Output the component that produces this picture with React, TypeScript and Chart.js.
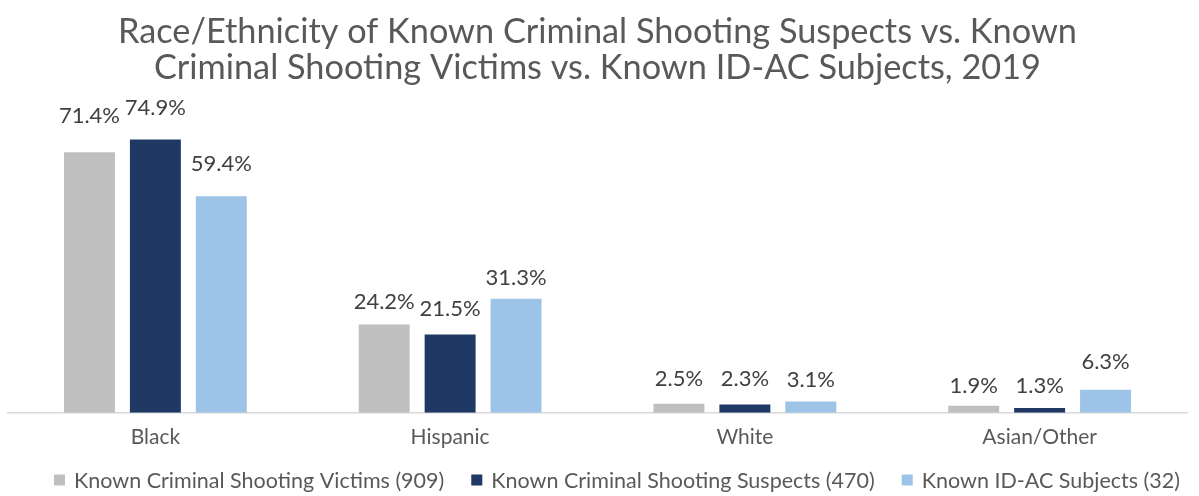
import React, { useEffect, useRef } from "react";
import { Chart, registerables } from "chart.js";

Chart.register(...registerables);

const categories = ["Black", "Hispanic", "White", "Asian/Other"];
const victims = [71.4, 24.2, 2.5, 1.9];
const suspects = [74.9, 21.5, 2.3, 1.3];
const idac = [59.4, 31.3, 3.1, 6.3];
const seriesNames = [
  "Known Criminal Shooting Victims (909)",
  "Known Criminal Shooting Suspects (470)",
  "Known ID-AC Subjects (32)",
];
const seriesColors = ["#bfbfbf", "#1f3864", "#9dc3e6"];
const titleLines = [
  "Race/Ethnicity of Known Criminal Shooting Suspects vs. Known",
  "Criminal Shooting Victims vs. Known ID-AC Subjects, 2019",
];

// label lift (px above bar top to text centre) per series, per category
const labelLift = [
  [36, 23, 25, 20],
  [32, 25, 26, 22],
  [32, 21, 22, 28],
];

const FONT = "Lato, 'Open Sans', sans-serif";

const valueLabels = {
  id: "valueLabels",
  afterDatasetsDraw(chart: any) {
    const ctx = chart.ctx;
    ctx.save();
    ctx.font = `22px ${FONT}`;
    ctx.fillStyle = "#404040";
    ctx.textAlign = "center";
    ctx.textBaseline = "middle";
    chart.data.datasets.forEach((ds: any, di: number) => {
      const meta = chart.getDatasetMeta(di);
      meta.data.forEach((bar: any, i: number) => {
        const v = ds.data[i];
        ctx.fillText(v.toFixed(1) + "%", bar.x, bar.y - labelLift[di][i]);
      });
    });
    ctx.restore();
  },
};

const customLegend = {
  id: "customLegend",
  afterDraw(chart: any) {
    const ctx = chart.ctx;
    ctx.save();
    ctx.font = `21.5px ${FONT}`;
    ctx.textBaseline = "middle";
    ctx.textAlign = "left";
    const box = 11;
    const gapText = 9;
    const gapItem = 27;
    const ds = chart.data.datasets;
    const widths = ds.map((d: any) => ctx.measureText(d.label).width);
    const total =
      widths.reduce((a: number, w: number) => a + w + box + gapText, 0) +
      gapItem * (ds.length - 1);
    const cy = 480;
    let x = 617 - total / 2;
    ds.forEach((d: any, i: number) => {
      ctx.fillStyle = d.backgroundColor;
      ctx.fillRect(x, cy - box / 2, box, box);
      x += box + gapText;
      ctx.fillStyle = "#595959";
      ctx.fillText(d.label, x, cy + 1);
      x += widths[i] + gapItem;
    });
    ctx.restore();
  },
};

export default function App() {
  const ref = useRef<HTMLCanvasElement>(null);
  useEffect(() => {
    if (!ref.current) return;
    const chart = new Chart(ref.current, {
      type: "bar",
      data: {
        labels: categories,
        datasets: [
          { label: seriesNames[0], data: victims, backgroundColor: seriesColors[0] },
          { label: seriesNames[1], data: suspects, backgroundColor: seriesColors[1] },
          { label: seriesNames[2], data: idac, backgroundColor: seriesColors[2] },
        ],
      },
      options: {
        animation: false,
        responsive: false,
        maintainAspectRatio: false,
        layout: { padding: { left: 8, right: 12, top: 14, bottom: 34 } },
        datasets: {
          bar: { categoryPercentage: 0.671, barPercentage: 0.773 },
        },
        scales: {
          x: {
            grid: { display: false, drawTicks: false },
            border: { display: true, color: "#d9d9d9", width: 1.5 },
            ticks: {
              color: "#595959",
              font: { family: FONT, size: 21, lineHeight: 1.2 },
              padding: 12,
            },
          },
          y: {
            display: false,
            min: 0,
            max: 80,
          },
        },
        plugins: {
          title: {
            display: true,
            text: titleLines,
            color: "#595959",
            font: { family: FONT, size: 34.3, weight: "normal", lineHeight: 36 / 34.3 },
            padding: { top: 0, bottom: 35 },
          },
          legend: { display: false },
          tooltip: { enabled: false },
        },
      },
      plugins: [valueLabels, customLegend],
    });
    return () => chart.destroy();
  }, []);
  return (
    <div style={{ position: "fixed", left: 0, top: 0, width: 1199, height: 496, background: "#fff" }}>
      <canvas ref={ref} width={1199} height={496} style={{ width: 1199, height: 496 }} />
    </div>
  );
}
